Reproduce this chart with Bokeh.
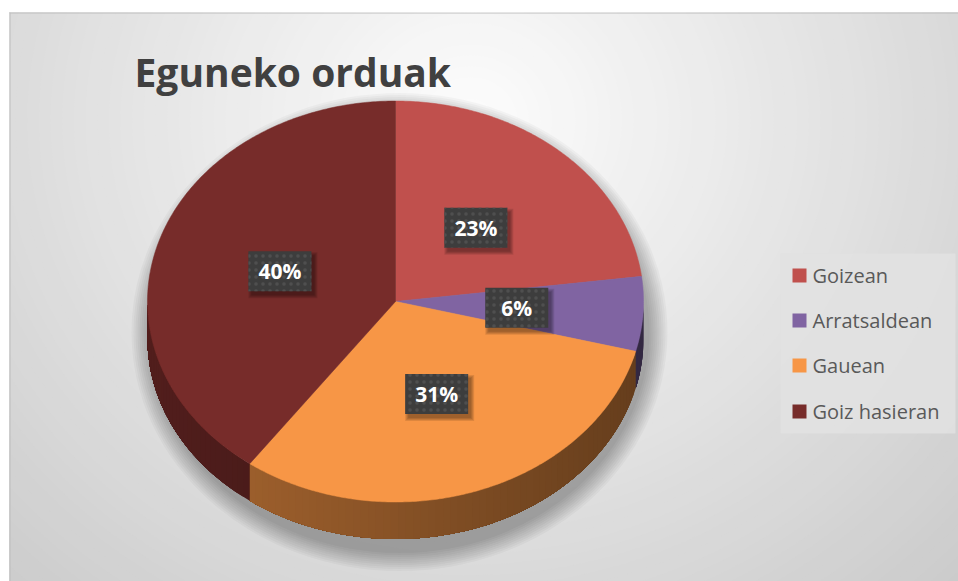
import numpy as np
from bokeh.plotting import figure
from bokeh.models import Range1d, ColumnDataSource
from bokeh.core.properties import value
from bokeh.embed import file_html
from bokeh.resources import INLINE

# ---- data ----
title_text = "Eguneko orduak"
categories = ["Goizean", "Arratsaldean", "Gauean", "Goiz hasieran"]
percents = [23, 6, 31, 40]
colors = ["#C0504D", "#8064A2", "#F79646", "#772C2A"]

# ---- layout (reference pixel coordinates, y downward) ----
CX, CY = 395.0, 301.0      # centre of the top face
RX, RY = 248.0, 200.5      # ellipse radii
DEPTH = 37.0               # thickness of the pie
LABEL_R = 0.49

p = figure(width=958, height=581, x_range=Range1d(9, 958), y_range=Range1d(581, 12),
           output_backend="svg", toolbar_location=None,
           x_axis_location=None, y_axis_location=None,
           min_border_left=9, min_border_top=12, min_border_right=0, min_border_bottom=0)
p.grid.visible = False
p.outline_line_color = None
p.border_fill_color = "white"
p.background_fill_color = "#c9c9c9"

# ---- background radial gradient (styling) ----
N = 60
gx, gy = 470.0, 120.0
for k in range(N):
    s = 1.0 - k / N
    g = int(round(253 - 50 * s))
    col = "#%02x%02x%02x" % (g, g, g)
    p.ellipse(x=gx, y=gy, width=2 * 700 * s, height=2 * 650 * s,
              fill_color=col, line_color=None)

# chart border (top/left)
p.segment(x0=9, y0=12.5, x1=958, y1=12.5, line_color="#bdbdbd", line_width=1)
p.segment(x0=9.5, y0=12, x1=9.5, y1=581, line_color="#bdbdbd", line_width=1)

# ---- shadow under the pie ----
for k in range(10):
    grow = 2 + k * 2.0
    p.ellipse(x=CX + 4, y=CY + DEPTH * 0.5 + 12, width=2 * RX + grow * 2,
              height=2 * RY + DEPTH + grow * 2, fill_color="black",
              fill_alpha=0.03, line_color=None)

# ---- geometry from data ----
vals = np.array(percents, dtype=float)
fr = vals / vals.sum()
ends = np.cumsum(fr) * 2 * np.pi
starts = ends - fr * 2 * np.pi


def pt(theta, dy=0.0):
    return CX + RX * np.sin(theta), CY - RY * np.cos(theta) + dy


def shade(hexcol, f):
    h = hexcol.lstrip("#")
    r, g, b = (int(h[i:i + 2], 16) for i in (0, 2, 4))
    return "#%02x%02x%02x" % (int(r * f), int(g * f), int(b * f))


# side walls (front half); each band runs to the slice end so no seams show
xs_side, ys_side, c_side = [], [], []
for a0, a1, col in zip(starts, ends, colors):
    lo, hi = max(a0, np.pi / 2), min(a1, 3 * np.pi / 2)
    if hi <= lo:
        continue
    n = max(2, int((hi - lo) / 0.03))
    ts = np.linspace(lo, hi, n + 1)
    for t0, t1 in zip(ts[:-1], ts[1:]):
        tt = np.linspace(t0, hi, max(3, int((hi - t0) / 0.01)))
        ex, ey = pt(tt)
        xs_side.append(list(ex) + list(ex[::-1]))
        ys_side.append(list(ey) + list((ey + DEPTH)[::-1]))
        tm = 0.5 * (t0 + t1)
        f = 0.55 - 0.14 * np.sin(tm)
        c_side.append(shade(col, f))
p.patches(xs="xs", ys="ys", fill_color="c", line_color=None,
          source=ColumnDataSource(dict(xs=xs_side, ys=ys_side, c=c_side)))

# top faces
xs_top, ys_top = [], []
for a0, a1 in zip(starts, ends):
    ts = np.linspace(a0, a1, max(8, int((a1 - a0) / 0.01)))
    ex, ey = pt(ts)
    xs_top.append([CX] + list(ex))
    ys_top.append([CY] + list(ey))
p.patches(xs="xs", ys="ys", fill_color="c", line_color="c", line_width=0.5,
          source=ColumnDataSource(dict(xs=xs_top, ys=ys_top, c=colors)))

# ---- data labels ----
mids = 0.5 * (starts + ends)
lx = CX + LABEL_R * RX * np.sin(mids)
ly = CY - LABEL_R * RY * np.cos(mids)
lab_src = ColumnDataSource(dict(x=lx, y=ly, t=[f"{v}%" for v in percents]))
shadow_src = ColumnDataSource(dict(x=lx + 3, y=ly + 4))
for k in range(4):
    p.rect(x="x", y="y", width=63 + k * 2, height=40 + k * 2, source=shadow_src,
           fill_color="black", fill_alpha=0.1, line_color=None)
p.rect(x="x", y="y", width=63, height=40, source=lab_src, fill_color="#3d3d3d",
       line_color=None, hatch_pattern="dot", hatch_color="#4f4f4f", hatch_scale=7,
       hatch_weight=1.0)
p.text(x="x", y="y", text="t", source=lab_src, text_font=value("Open Sans"),
       text_font_style="bold", text_font_size="21px", text_color="white",
       text_align="center", text_baseline="middle")

# ---- title ----
p.text(x=[134], y=[71], text=[title_text], text_font=value("Open Sans"),
       text_font_style="bold", text_font_size="39px", text_color="#404040",
       text_align="left", text_baseline="alphabetic")

# ---- legend ----
p.quad(left=[780], right=[955], top=[253], bottom=[433], fill_color="#e2e2e2",
       fill_alpha=0.85, line_color=None)
leg_y = [275, 320, 365, 411]
leg_src = ColumnDataSource(dict(y=leg_y, x=[799] * 4, tx=[812] * 4,
                                c=colors, t=categories))
p.rect(x="x", y="y", width=14, height=14, source=leg_src, fill_color="c", line_color=None)
p.text(x="tx", y="y", text="t", source=leg_src, text_font=value("Open Sans"),
       text_font_size="20px", text_color="#595959", text_align="left",
       text_baseline="middle")

open("out.html", "w").write(file_html(p, INLINE))
